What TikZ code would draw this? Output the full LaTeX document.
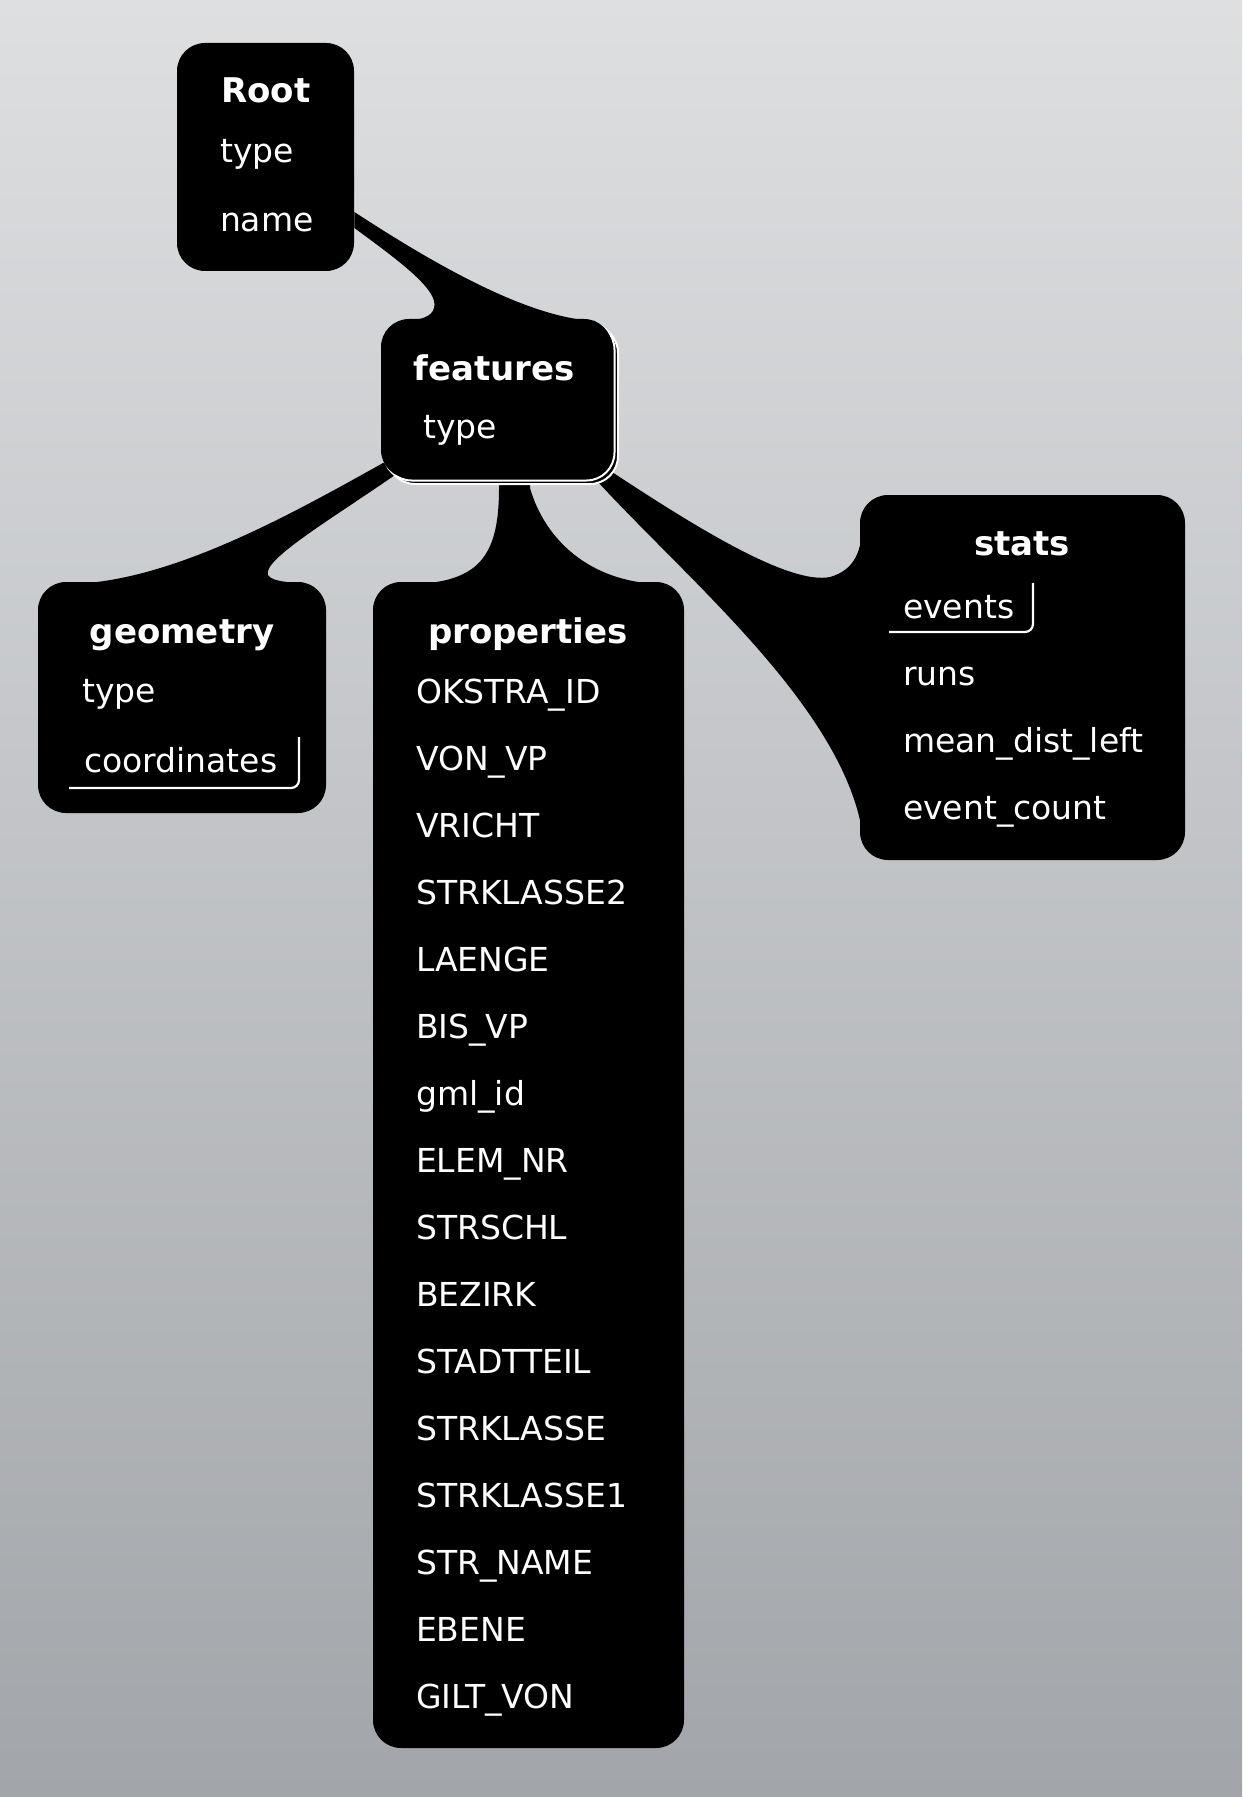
\documentclass[tikz,border=0pt]{standalone}
\usepackage{fontspec}
\setmainfont{DejaVu Sans}
\usetikzlibrary{calc}
\definecolor{bgtop}{RGB}{221,223,225}
\definecolor{bgbot}{RGB}{162,165,169}
\pgfdeclarelayer{bg}
\pgfdeclarelayer{links}
\pgfsetlayers{bg,links,main}
\begin{document}
\begin{tikzpicture}[x=0.5pt, y=-0.5pt,
    box/.style={fill=black, rounded corners=14pt, inner sep=0pt},
    backcard/.style={box, draw=white, line width=1pt},
    title/.style={text=white, anchor=base, font=\bfseries\fontsize{17}{20}\selectfont},
    field/.style={text=white, anchor=base west, font=\fontsize{16.5}{20}\selectfont},
    bracket/.style={draw=white, line width=1.1pt, rounded corners=4pt}]
    \useasboundingbox (0,0) rectangle (1242,1797);
    \begin{pgfonlayer}{bg}
        \shade [top color=bgtop, bottom color=bgbot] (0,0) rectangle (1242,1797);
    \end{pgfonlayer}
    % boxes
    \node [box, minimum width=88.5pt, minimum height=114pt] (root) at (265.5,157) {};
    \node [backcard, minimum width=115.5pt, minimum height=79.5pt] (featback2) at (502.5,404.5) {};
    \node [backcard, minimum width=115.5pt, minimum height=79.5pt] (featback1) at (499,401) {};
    \node [box, minimum width=115.5pt, minimum height=79.5pt] (features) at (496.5,398.5) {};
    \node [box, minimum width=144pt, minimum height=115.5pt] (geometry) at (182,697.5) {};
    \node [box, minimum width=155.5pt, minimum height=583pt] (properties) at (528.5,1165) {};
    \node [box, minimum width=162.5pt, minimum height=182.5pt] (stats) at (1022.5,677.5) {};
    % links
    \begin{pgfonlayer}{links}
        \fill (root.east |- 0,212) .. controls (440,268) and (530,318) .. (595,321)
            -- (405,321) .. controls (420,320) and (432,317) .. (434,308)
            .. controls (440,290) and (395,258) .. (root.east |- 0,228) -- cycle;
        \fill (400,460) -- (383,463) .. controls (290,515) and (170,582) .. (70,584)
            -- (305,584) .. controls (290,582) and (272,582) .. (268,575)
            .. controls (262,560) and (330,520) .. (395,475) -- cycle;
        \fill (499,470) -- (499,488) .. controls (499,555) and (480,583) .. (410,584)
            -- (660,584) .. controls (590,582) and (545,540) .. (530,488) -- (530,470) -- cycle;
        \fill (598,462) -- (612,472) .. controls (700,530) and (790,585) .. (830,577)
            .. controls (855,570) and (862,550) .. (862,525)
            -- (862,830) .. controls (840,706) and (690,582) .. (598,482) -- cycle;
    \end{pgfonlayer}
    % labels
    \node [title] (root-title) at (266,103) {Root};
    \node [field] (root-type) at (213,163) {type};
    \node [field] (root-name) at (213,232) {name};
    \node [title] (feat-title) at (494,380) {features};
    \node [field] (feat-type) at (416,438) {type};
    \node [title] (geo-title) at (182,643) {geometry};
    \node [field] (geo-type) at (75,702) {type};
    \node [field] (geo-coord) at (77,772) {coordinates};
    \draw [bracket] (69,788) -- (299,788) -- (299,737);
    \node [title] (prop-title) at (528,643) {properties};
    \foreach \f [count=\i from 0] in {OKSTRA\_ID, VON\_VP, VRICHT, STRKLASSE2, LAENGE,
        BIS\_VP, gml\_id, ELEM\_NR, STRSCHL, BEZIRK, STADTTEIL, STRKLASSE, STRKLASSE1,
        STR\_NAME, EBENE, GILT\_VON}
        \node [field] (prop-\i) at (409,{703+67*\i}) {\f};
    \node [title] (stats-title) at (1022,555) {stats};
    \foreach \f [count=\i from 0] in {events, runs, mean\_dist\_left, event\_count}
        \node [field] (stats-\i) at (896,{618+67*\i}) {\f};
    \draw [bracket] (889,632) -- (1033,632) -- (1033,583);
\end{tikzpicture}
\end{document}
